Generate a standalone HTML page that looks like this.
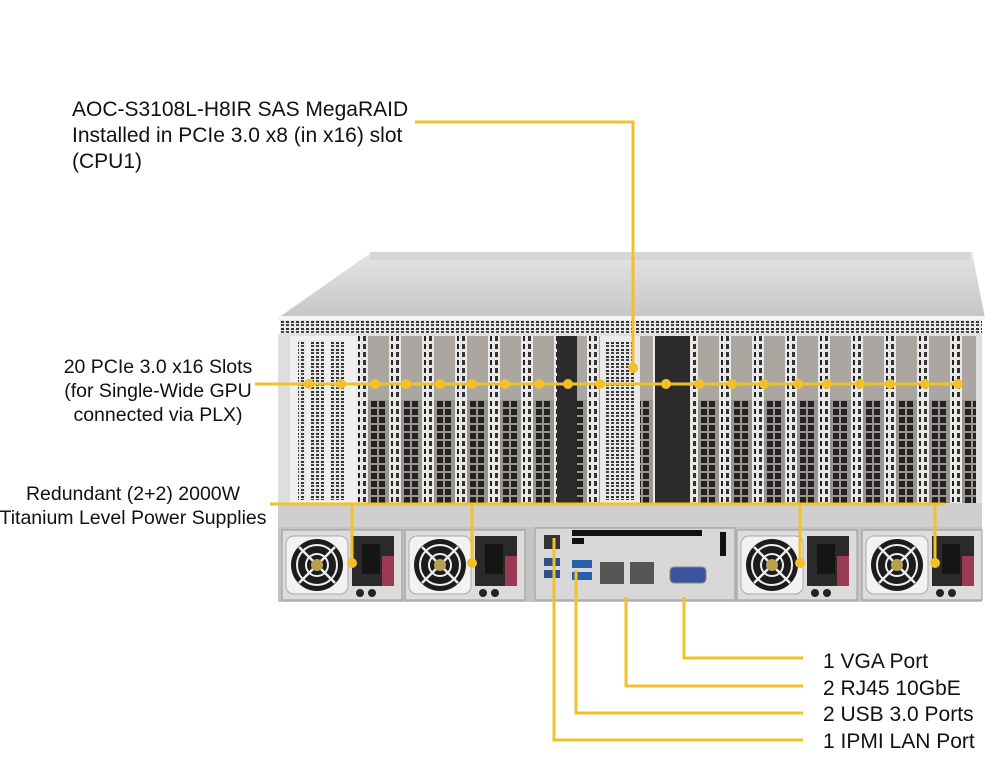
<!DOCTYPE html>
<html><head><meta charset="utf-8"><style>
html,body{margin:0;padding:0;background:#fff;}
svg{display:block}
text{font-family:"Liberation Sans",Arial,sans-serif;fill:#111;}
</style></head><body>
<svg width="1000" height="773" viewBox="0 0 1000 773" xmlns="http://www.w3.org/2000/svg">
<defs>
<linearGradient id="lid" x1="0" y1="0" x2="0" y2="1">
<stop offset="0" stop-color="#e4e4e4"/><stop offset="1" stop-color="#c6c6c6"/></linearGradient>
<pattern id="vent" x="280" y="320" width="5" height="7" patternUnits="userSpaceOnUse">
<rect width="5" height="7" fill="#e8e8e8"/><rect x="1" y="1" width="3" height="2" fill="#333"/><rect x="1" y="4" width="3" height="2" fill="#444"/></pattern>
<pattern id="slot" x="290" y="335" width="33" height="8" patternUnits="userSpaceOnUse">
<rect width="33" height="8" fill="#e9e9e9"/>
<rect x="2" y="1" width="2" height="5" fill="#222"/>
<rect x="7" y="1" width="3" height="5" fill="#333"/>
<rect x="12" y="0" width="21" height="8" fill="#aca6a0"/>
</pattern>
<pattern id="card" x="290" y="400" width="33" height="8" patternUnits="userSpaceOnUse">
<rect width="33" height="8" fill="#e9e9e9"/>
<rect x="2" y="1" width="2" height="5" fill="#222"/>
<rect x="7" y="1" width="3" height="5" fill="#333"/>
<rect x="12" y="0" width="21" height="8" fill="#9a948e"/>
<rect x="15" y="1" width="6" height="6" fill="#222"/>
<rect x="23" y="1" width="6" height="6" fill="#222"/>
</pattern>
<g id="psu">
<rect x="0" y="0" width="120" height="70" fill="#dcdcdc" stroke="#999"/>
<rect x="4" y="6" width="62" height="58" rx="8" fill="#f2f2f2" stroke="#aaa"/>
<circle cx="35" cy="35" r="26" fill="#1c1c1c"/>
<circle cx="35" cy="35" r="20" fill="none" stroke="#eee" stroke-width="2"/>
<circle cx="35" cy="35" r="11" fill="none" stroke="#eee" stroke-width="2"/>
<path d="M17 17 L53 53 M53 17 L17 53" stroke="#eee" stroke-width="2.5"/>
<circle cx="35" cy="35" r="6" fill="#b8a050"/>
<rect x="70" y="6" width="42" height="50" fill="#2a2a2a"/>
<rect x="80" y="14" width="18" height="30" fill="#151515"/>
<rect x="100" y="26" width="12" height="30" fill="#9a3a55"/>
<circle cx="78" cy="63" r="4" fill="#222"/><circle cx="90" cy="63" r="4" fill="#222"/>
</g>
</defs>

<polygon points="372,252 972,252 985,318 278,318" fill="url(#lid)"/>
<rect x="370" y="252" width="600" height="8" fill="#d6d6d6"/>
<rect x="278" y="316" width="707" height="4" fill="#f4f4f4"/>
<rect x="280" y="320" width="702" height="14" fill="url(#vent)"/>
<rect x="278" y="334" width="704" height="172" fill="#dedede"/>
<rect x="290" y="336" width="686" height="64" fill="url(#slot)"/>
<rect x="290" y="400" width="686" height="103" fill="url(#card)"/>
<rect x="290" y="336" width="66" height="167" fill="#f0f0f0"/>
<rect x="298" y="340" width="8" height="160" fill="url(#vent)"/>
<rect x="310" y="340" width="14" height="160" fill="url(#vent)"/>
<rect x="330" y="340" width="14" height="160" fill="url(#vent)"/>
<rect x="557" y="336" width="20" height="167" fill="#2b2b2b"/>
<rect x="655" y="336" width="35" height="167" fill="#2b2b2b"/>
<rect x="600" y="336" width="40" height="167" fill="#eaeaea"/>
<rect x="606" y="340" width="28" height="160" fill="url(#vent)"/>
<rect x="278" y="503" width="704" height="26" fill="#cfcfcf"/>
<rect x="278" y="527" width="704" height="75" fill="#c4c4c4"/>
<use href="#psu" x="282" y="530"/>
<use href="#psu" x="405" y="530"/>
<use href="#psu" x="737" y="530"/>
<use href="#psu" x="862" y="530"/>
<rect x="535" y="528" width="200" height="72" fill="#d8d8d8" stroke="#999"/>
<rect x="544" y="535" width="16" height="14" fill="#333"/>
<g fill="#111"><rect x="572" y="530" width="130" height="6"/><rect x="572" y="538" width="12" height="6"/><rect x="720" y="532" width="6" height="24"/></g>
<rect x="544" y="558" width="16" height="8" fill="#2a4f8a"/><rect x="544" y="570" width="16" height="8" fill="#2a4f8a"/>
<rect x="572" y="560" width="20" height="8" fill="#2a5fb0"/><rect x="572" y="572" width="20" height="8" fill="#2a5fb0"/>
<rect x="600" y="562" width="24" height="22" fill="#555"/><rect x="630" y="562" width="24" height="22" fill="#555"/>
<rect x="670" y="567" width="36" height="16" rx="4" fill="#3a55a0" stroke="#888"/>

<g stroke="#f2c02a" stroke-width="3" fill="none">
<polyline points="415,122 633,122 633,368"/>
<line x1="255" y1="384" x2="962" y2="384"/>
<line x1="270" y1="504" x2="945" y2="504"/>
<line x1="352" y1="504" x2="352" y2="563"/>
<line x1="472" y1="504" x2="472" y2="563"/>
<line x1="800" y1="504" x2="800" y2="563"/>
<line x1="935" y1="504" x2="935" y2="563"/>
<polyline points="554,538 554,740 803,740"/>
<polyline points="576,570 576,713 803,713"/>
<polyline points="626,597 626,686 803,686"/>
<polyline points="684,597 684,658 803,658"/>
</g>
<g fill="#f2c02a">
<circle cx="633" cy="368" r="5"/>
<circle cx="309" cy="384" r="5"/><circle cx="341" cy="384" r="5"/><circle cx="375" cy="384" r="5"/><circle cx="406" cy="384" r="5"/>
<circle cx="440" cy="384" r="5"/><circle cx="472" cy="384" r="5"/><circle cx="505" cy="384" r="5"/><circle cx="539" cy="384" r="5"/>
<circle cx="568" cy="384" r="5"/><circle cx="600" cy="384" r="5"/><circle cx="666" cy="384" r="5"/><circle cx="699" cy="384" r="5"/>
<circle cx="732" cy="384" r="5"/><circle cx="764" cy="384" r="5"/><circle cx="798" cy="384" r="5"/><circle cx="827" cy="384" r="5"/>
<circle cx="860" cy="384" r="5"/><circle cx="890" cy="384" r="5"/><circle cx="925" cy="384" r="5"/><circle cx="958" cy="384" r="5"/>
<circle cx="352" cy="563" r="5"/><circle cx="472" cy="563" r="5"/><circle cx="800" cy="563" r="5"/><circle cx="935" cy="563" r="5"/>
</g>

<g font-size="21">
<text x="72" y="116">AOC-S3108L-H8IR SAS MegaRAID</text>
<text x="72" y="142">Installed in PCIe 3.0 x8 (in x16) slot</text>
<text x="72" y="168">(CPU1)</text>
<text x="823" y="668">1 VGA Port</text>
<text x="823" y="695">2 RJ45 10GbE</text>
<text x="823" y="721">2 USB 3.0 Ports</text>
<text x="823" y="748">1 IPMI LAN Port</text>
</g>
<g font-size="19.5">
<text x="158" y="373" text-anchor="middle">20 PCIe 3.0 x16 Slots</text>
<text x="158" y="397" text-anchor="middle">(for Single-Wide GPU</text>
<text x="158" y="421" text-anchor="middle">connected via PLX)</text>
<text x="133" y="500" text-anchor="middle">Redundant (2+2) 2000W</text>
<text x="133" y="524" text-anchor="middle">Titanium Level Power Supplies</text>
</g>
</svg>
</body></html>
